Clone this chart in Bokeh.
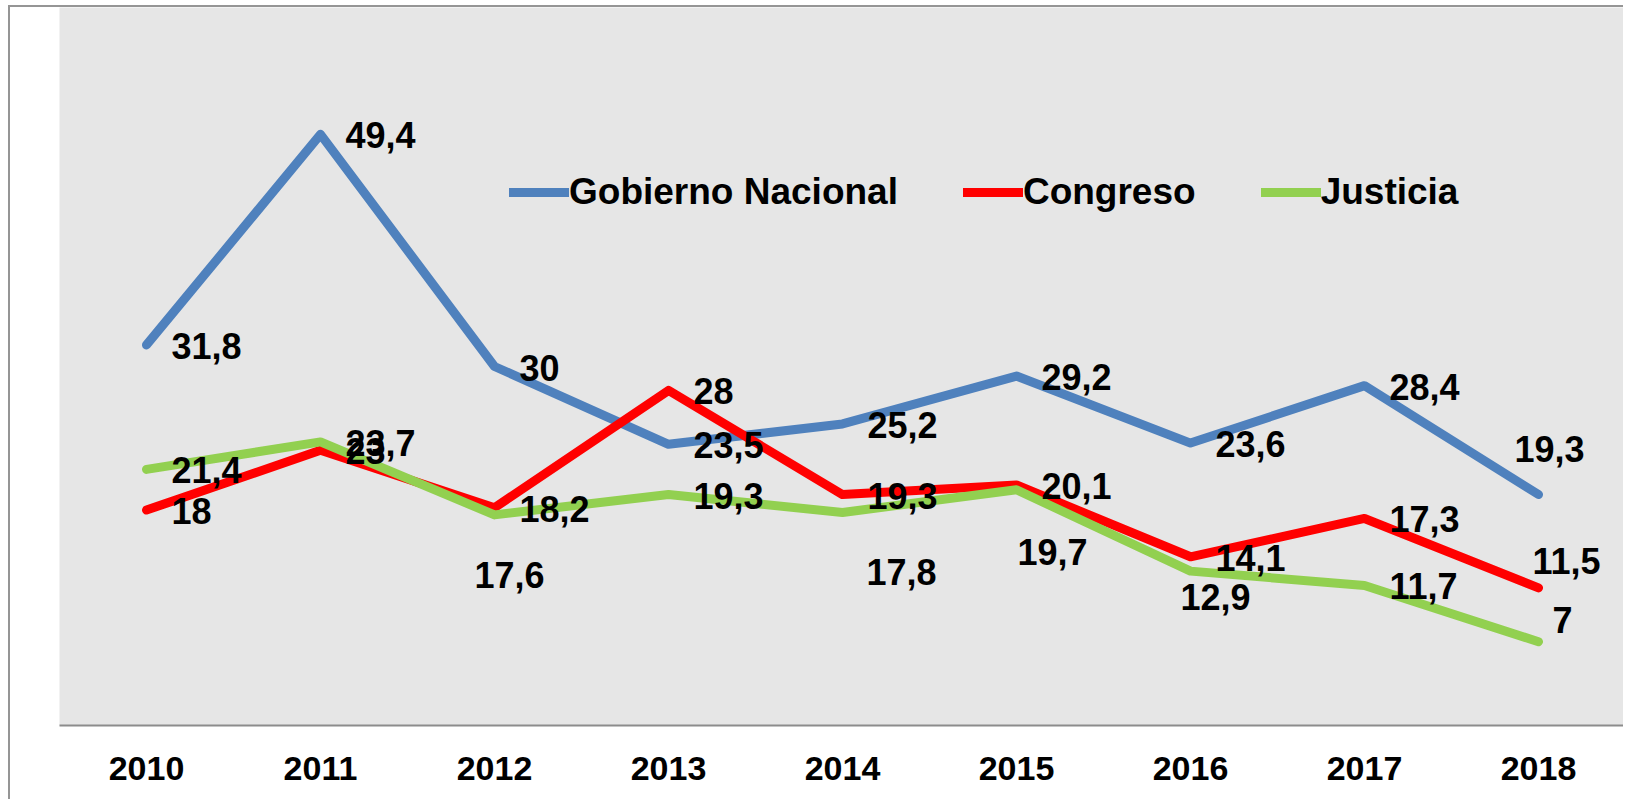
from bokeh.plotting import figure
from bokeh.models import FactorRange, Range1d, ColumnDataSource, Legend, LegendItem
from bokeh.core.properties import value
from bokeh.embed import file_html
from bokeh.resources import INLINE

years = ["2010", "2011", "2012", "2013", "2014", "2015", "2016", "2017", "2018"]
gobierno = [31.8, 49.4, 30, 23.5, 25.2, 29.2, 23.6, 28.4, 19.3]
congreso = [18, 23, 18.2, 28, 19.3, 20.1, 14.1, 17.3, 11.5]
justicia = [21.4, 23.7, 17.6, 19.3, 17.8, 19.7, 12.9, 11.7, 7]
series_names = ["Gobierno Nacional", "Congreso", "Justicia"]
colors = ["#4F81BD", "#FF0000", "#92D050"]

# label placement offsets (screen px) – styling only
DX, DY = 25, 1
gob_dx = [DX] * 8 + [-24]
gob_dy = [DY] * 8 + [-46]
con_dx = [DX] * 8 + [-6]
con_dy = [DY] * 8 + [-27]
jus_dx = [DX, DX, -20, DX, 24, 1, -10, DX, 14]
jus_dy = [DY, DY, 60, DY, 60, 62, 26, DY, -22]


def fmt(v):
    return (str(int(v)) if float(v).is_integer() else str(v)).replace(".", ",")


FONT = "Liberation Sans"

p = figure(width=1615, height=794, x_range=FactorRange(*years, range_padding=0),
           y_range=Range1d(0, 60), output_backend="svg", toolbar_location=None,
           y_axis_location=None, min_border_left=49, min_border_top=0,
           min_border_right=0, min_border_bottom=76,
           styles={"margin-left": "8px", "margin-top": "5px",
                   "border-left": "2px solid #959595",
                   "border-top": "2px solid #959595"})
p.background_fill_color = "#E6E6E6"
p.border_fill_color = "white"
p.outline_line_color = None
p.xgrid.grid_line_color = None
p.ygrid.grid_line_color = None

ax = p.xaxis[0]
ax.axis_line_color = "#8C8C8C"
ax.axis_line_width = 2
ax.major_tick_line_color = None
ax.minor_tick_line_color = None
ax.major_tick_out = 0
ax.major_tick_in = 0
ax.major_label_standoff = 31
ax.major_label_text_font = FONT
ax.major_label_text_font_style = "bold"
ax.major_label_text_font_size = "34px"
ax.major_label_text_color = "black"

renderers = []
all_vals = [gobierno, congreso, justicia]
for name, vals, col in zip(series_names, all_vals, colors):
    src = ColumnDataSource(dict(x=years, y=vals))
    r = p.line("x", "y", source=src, line_color=col, line_width=9,
               line_cap="round", line_join="round")
    renderers.append(r)

for vals, dxs, dys in zip(all_vals, [gob_dx, con_dx, jus_dx], [gob_dy, con_dy, jus_dy]):
    src = ColumnDataSource(dict(x=years, y=vals, t=[fmt(v) for v in vals], dx=dxs, dy=dys))
    p.text("x", "y", text="t", source=src, x_offset="dx", y_offset="dy",
           text_font=value(FONT), text_font_style="bold", text_font_size="36px",
           text_color="black", text_align="left", text_baseline="middle")

legend = Legend(items=[LegendItem(label=n, renderers=[r]) for n, r in zip(series_names, renderers)],
                orientation="horizontal", location=(450, 512))
legend.label_text_font = FONT
legend.label_text_font_style = "bold"
legend.label_text_font_size = "37px"
legend.label_text_color = "black"
legend.glyph_width = 60
legend.glyph_height = 40
legend.label_height = 40
legend.label_standoff = 0
legend.spacing = 65
legend.padding = 0
legend.margin = 0
legend.border_line_alpha = 0
legend.background_fill_alpha = 0
p.add_layout(legend)

open("out.html", "w").write(file_html(p, INLINE))
